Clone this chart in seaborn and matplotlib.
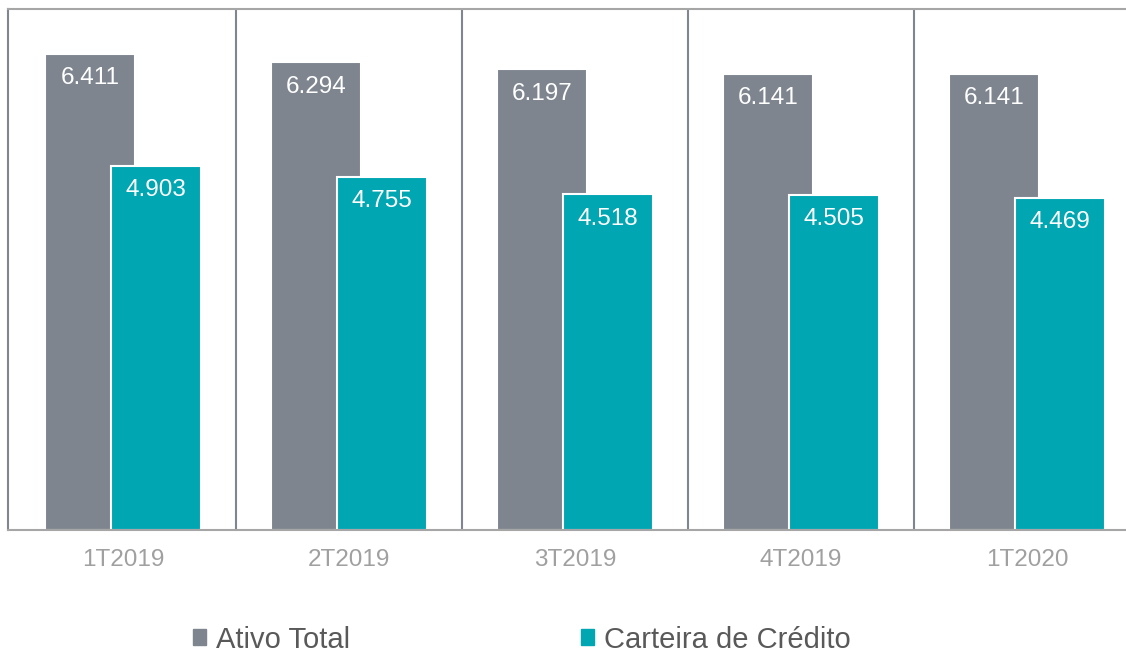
import pandas as pd
import matplotlib.pyplot as plt
import seaborn as sns

# dados
trimestres = ['1T2019', '2T2019', '3T2019', '4T2019', '1T2020']
ativo_total = [6.411, 6.294, 6.197, 6.141, 6.141]
carteira_credito = [4.903, 4.755, 4.518, 4.505, 4.469]
series = ['Ativo Total', 'Carteira de Crédito']
cores = ['#7e858f', '#00a6b2']

df = pd.DataFrame({'Trimestre': trimestres,
                   'Ativo Total': ativo_total,
                   'Carteira de Crédito': carteira_credito})
df = df.melt(id_vars='Trimestre', var_name='Serie', value_name='Valor')

sns.set_style('white')
plt.rcParams['font.family'] = ['Liberation Sans', 'DejaVu Sans']

fig = plt.figure(figsize=(11.26, 6.52), dpi=100)
ax = fig.add_axes([8 / 1126, 122 / 652, 1 - 8 / 1126, (530 - 9) / 652])

sns.barplot(data=df, x='Trimestre', y='Valor', hue='Serie', palette=cores,
            saturation=1, width=0.58, edgecolor='white', linewidth=1.5,
            legend=False, ax=ax)

# barras mais largas, sobrepostas
for p in ax.patches:
    c = p.get_x() + p.get_width() / 2
    p.set_width(0.40)
    p.set_x(c - 0.20)

for p in ax.patches:
    h = p.get_height()
    ax.annotate(f'{h:.3f}', (p.get_x() + p.get_width() / 2, h),
                xytext=(0, -17.5), textcoords='offset points',
                ha='center', va='center', color='white', fontsize=17.5)

ax.set_ylim(0, 7.01)
ax.set_xlim(-0.509, 4.438)
ax.set_xlabel('')
ax.set_ylabel('')
ax.set_yticks([])
ax.tick_params(axis='x', length=0, pad=14, labelsize=17.5, labelcolor='#a0a0a0')

for i in range(len(trimestres) - 1):
    ax.axvline(i + 0.5, color='#80868f', lw=1.5)

ax.spines['right'].set_visible(False)
ax.spines['left'].set_color('#80868f')
ax.spines['left'].set_linewidth(1.5)
for s in ['top', 'bottom']:
    ax.spines[s].set_color('#a6a6a6')
    ax.spines[s].set_linewidth(1.5)

handles = [plt.Rectangle((0, 0), 1, 1, color=c) for c in cores]
fig.legend(handles, series, loc='center', bbox_to_anchor=(0.4636, 0.019),
           ncol=2, frameon=False, fontsize=21, handlelength=0.45, handleheight=0.45,
           handletextpad=0.35, columnspacing=7.9, labelcolor='#595959')

plt.savefig('out.png', dpi=100)
plt.close()
